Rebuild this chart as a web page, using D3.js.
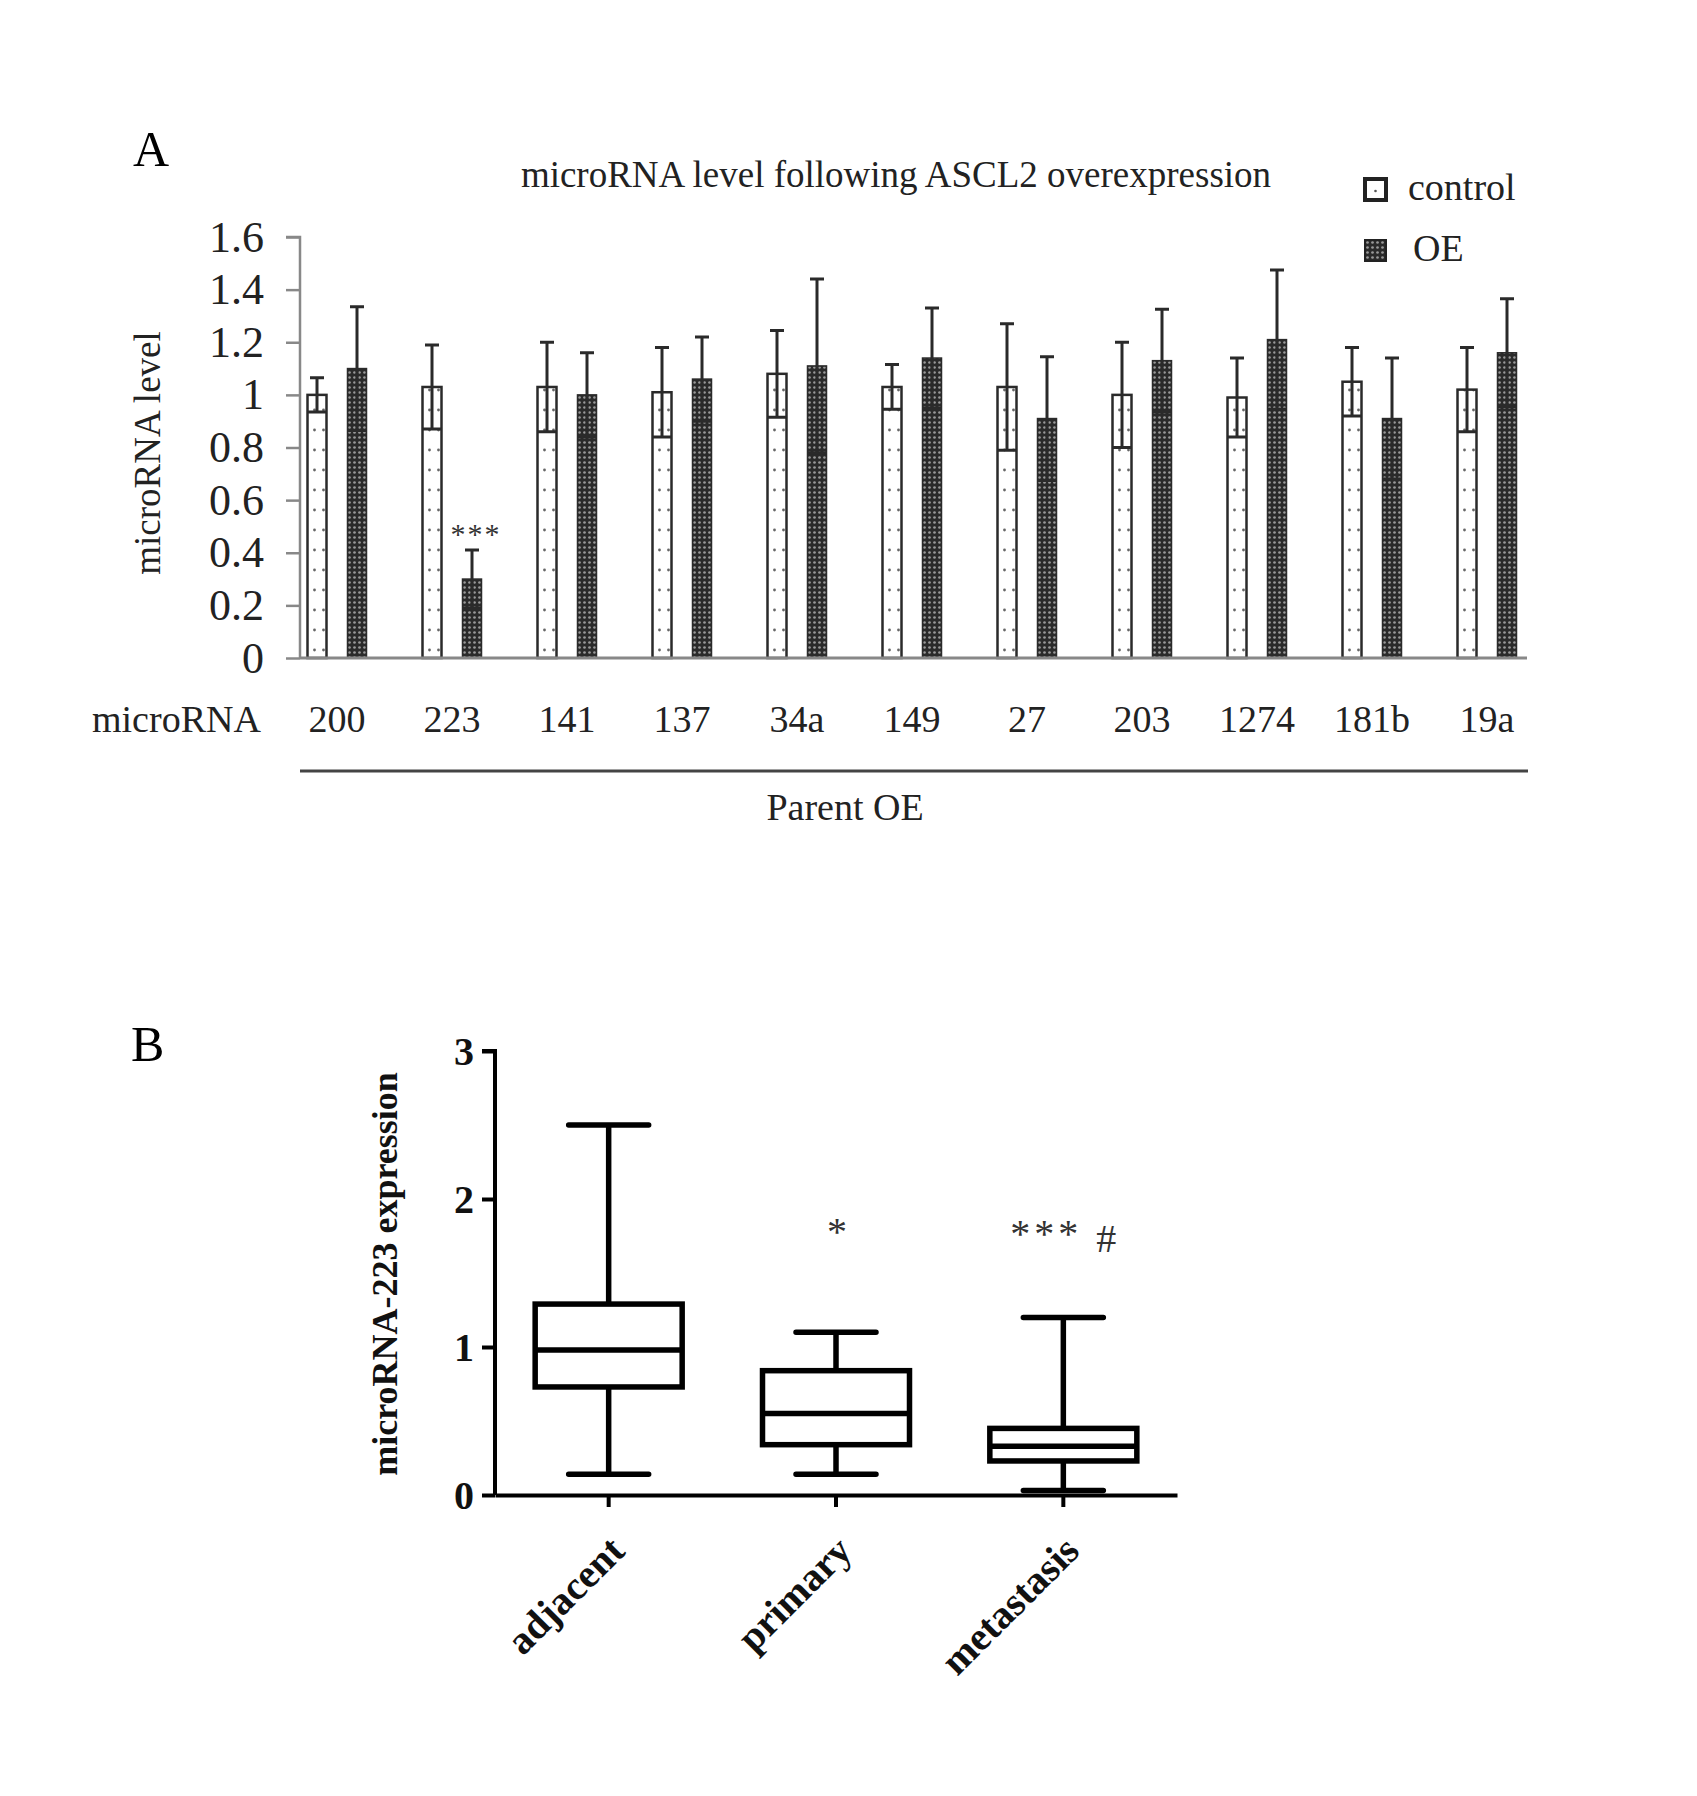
<!DOCTYPE html>
<html>
<head>
<meta charset="utf-8">
<script src="https://cdn.jsdelivr.net/npm/d3@7"></script>
<style>
  body { margin: 0; background: #fff; }
  svg { display: block; font-family: "Liberation Serif", "Times New Roman", serif; }
</style>
</head>
<body>
<svg id="chart" width="1697" height="1796"></svg>
<script>
// panel A data
const mirnas = ['200', '223', '141', '137', '34a', '149', '27', '203', '1274', '181b', '19a'];
const controlMean = [1.00, 1.03, 1.03, 1.01, 1.08, 1.03, 1.03, 1.00, 0.99, 1.05, 1.02];
const controlErr  = [0.065, 0.16, 0.17, 0.17, 0.165, 0.085, 0.24, 0.20, 0.15, 0.13, 0.16];
const oeMean = [1.10, 0.30, 1.00, 1.06, 1.11, 1.14, 0.91, 1.13, 1.21, 0.91, 1.16];
const oeErr  = [0.235, 0.11, 0.16, 0.16, 0.33, 0.19, 0.235, 0.195, 0.265, 0.23, 0.205];
const seriesNames = ['control', 'OE'];
const yTicksA = [0, 0.2, 0.4, 0.6, 0.8, 1, 1.2, 1.4, 1.6];

// panel B data
const tissues = ['adjacent', 'primary', 'metastasis'];
const whiskerLow  = [0.14, 0.14, 0.03];
const q1          = [0.73, 0.34, 0.23];
const medians     = [0.98, 0.55, 0.33];
const q3          = [1.29, 0.84, 0.45];
const whiskerHigh = [2.5, 1.10, 1.20];
const yTicksB = [0, 1, 2, 3];

const svg = d3.select('#chart');
const defs = svg.append('defs');

// fill patterns like the original print
let pc = defs.append('pattern').attr('id', 'dotsLight')
    .attr('patternUnits', 'userSpaceOnUse').attr('width', 9).attr('height', 20);
pc.append('rect').attr('width', 9).attr('height', 20).attr('fill', '#fff');
pc.append('circle').attr('cx', 4.5).attr('cy', 10).attr('r', 1.4).attr('fill', '#666');

let po = defs.append('pattern').attr('id', 'dotsDark')
    .attr('patternUnits', 'userSpaceOnUse').attr('width', 5).attr('height', 5);
po.append('rect').attr('width', 5).attr('height', 5).attr('fill', '#2a2a2a');
po.append('circle').attr('cx', 2.5).attr('cy', 2.5).attr('r', 1.35).attr('fill', '#999');

/* ---------- panel A ---------- */
const gA = svg.append('g');
const xA = d3.scalePoint().domain(mirnas).range([337, 1487]);
const yA = d3.scaleLinear().domain([0, 1.6]).range([658, 237]);
const barW = 19, offset = 20;

gA.append('text').attr('x', 133).attr('y', 166)
    .style('font-size', '50px').text('A');

gA.append('text').attr('x', 896).attr('y', 187).attr('text-anchor', 'middle')
    .style('font-size', '37px').attr('fill', '#222')
    .text('microRNA level following ASCL2 overexpression');

let yAxisA = gA.append('g').attr('transform', 'translate(300,0)')
    .call(d3.axisLeft(yA).tickValues(yTicksA).tickSize(14).tickPadding(22)
        .tickFormat(d => d === 0 ? '0' : String(+d.toFixed(1))));
yAxisA.selectAll('path, line').attr('stroke', '#888').attr('stroke-width', 2.5);
yAxisA.select('.domain').attr('d', `M-14,${yA(1.6)}H0V${yA(0)}`);
yAxisA.selectAll('text').style('font-size', '44px').attr('fill', '#222')
    .style('font-family', '"Liberation Serif", serif').attr('dy', '0.32em');

gA.append('text').attr('transform', 'translate(160,453) rotate(-90)')
    .attr('text-anchor', 'middle').style('font-size', '37px').attr('fill', '#222')
    .text('microRNA level');

let rows = mirnas.map((m, i) => ({
    name: m,
    vals: [
        {s: 'control', mean: controlMean[i], err: controlErr[i], dx: -offset},
        {s: 'OE', mean: oeMean[i], err: oeErr[i], dx: offset}
    ]
}));

let groups = gA.selectAll('g.grp').data(rows).join('g').attr('class', 'grp')
    .attr('transform', d => `translate(${xA(d.name)},0)`);

groups.selectAll('rect').data(d => d.vals).join('rect')
    .attr('x', d => d.dx - barW / 2)
    .attr('y', d => yA(d.mean))
    .attr('width', barW)
    .attr('height', d => yA(0) - yA(d.mean))
    .attr('fill', d => d.s === 'control' ? 'url(#dotsLight)' : 'url(#dotsDark)')
    .attr('stroke', '#2a2a2a')
    .attr('stroke-width', d => d.s === 'control' ? 2.5 : 1.5);

// error bars (lower half falls inside the bar)
groups.selectAll('path.err').data(d => d.vals).join('path').attr('class', 'err')
    .attr('d', d => {
        let top = yA(d.mean + d.err), bot = yA(d.mean - d.err);
        return `M${d.dx},${bot}V${top}M${d.dx - 7},${top}H${d.dx + 7}M${d.dx - barW / 2},${bot}H${d.dx + barW / 2}`;
    })
    .attr('fill', 'none').attr('stroke', '#2a2a2a').attr('stroke-width', 3);

// significance mark on miR-223 OE
gA.append('text')
    .attr('x', xA('223') + offset + 4).attr('y', yA(oeMean[1] + oeErr[1]) - 6)
    .attr('text-anchor', 'middle').style('font-size', '30px').attr('fill', '#333')
    .style('letter-spacing', '2px').text('***');

// baseline
gA.append('line').attr('x1', 300).attr('x2', 1527).attr('y1', yA(0)).attr('y2', yA(0))
    .attr('stroke', '#888').attr('stroke-width', 3);

// legend
let leg = gA.selectAll('g.leg').data(seriesNames).join('g').attr('class', 'leg')
    .attr('transform', (d, i) => `translate(1365,${179 + i * 61})`);
leg.append('rect').attr('width', 21).attr('height', 21)
    .attr('fill', d => d === 'control' ? '#fff' : 'url(#dotsDark)')
    .attr('stroke', '#222').attr('stroke-width', d => d === 'control' ? 4 : 2);
leg.append('circle').attr('cx', 10.5).attr('cy', 12).attr('r', 1.3)
    .attr('fill', d => d === 'control' ? '#555' : 'none');
leg.append('text').attr('x', d => d === 'control' ? 43 : 48).attr('y', 21)
    .style('font-size', '38px').attr('fill', '#222').text(d => d);

// category row
gA.append('text').attr('x', 92).attr('y', 732).style('font-size', '38px')
    .attr('fill', '#222').text('microRNA');
gA.selectAll('text.cat').data(mirnas).join('text').attr('class', 'cat')
    .attr('x', d => xA(d)).attr('y', 732).attr('text-anchor', 'middle')
    .style('font-size', '38px').attr('fill', '#222').text(d => d);

gA.append('line').attr('x1', 300).attr('x2', 1528).attr('y1', 771).attr('y2', 771)
    .attr('stroke', '#444').attr('stroke-width', 3);
gA.append('text').attr('x', 845).attr('y', 820).attr('text-anchor', 'middle')
    .style('font-size', '38px').attr('fill', '#222').text('Parent OE');

/* ---------- panel B ---------- */
const gB = svg.append('g');
const xB = d3.scaleBand().domain(tissues).range([495, 1177]);
const yB = d3.scaleLinear().domain([0, 3]).range([1495, 1051]);
const boxW = 147, capW = 80;

gB.append('text').attr('x', 131).attr('y', 1061)
    .style('font-size', '50px').text('B');

let yAxisB = gB.append('g').attr('transform', 'translate(495,0)')
    .call(d3.axisLeft(yB).tickValues(yTicksB).tickSize(13).tickPadding(8).tickFormat(d3.format('d')));
yAxisB.selectAll('path, line').attr('stroke', '#000').attr('stroke-width', 4);
yAxisB.select('.domain').attr('d', `M-13,${yB(3)}H0V${yB(0)}`);
yAxisB.selectAll('text').style('font-size', '40px').style('font-weight', 'bold')
    .style('font-family', '"Liberation Serif", serif').attr('fill', '#111').attr('dy', '0.34em');

let xAxisB = gB.append('g').attr('transform', `translate(0,${yB(0)})`)
    .call(d3.axisBottom(xB).tickSize(12).tickSizeOuter(0));
xAxisB.selectAll('path, line').attr('stroke', '#000').attr('stroke-width', 4);
xAxisB.selectAll('text').remove();

gB.selectAll('text.tis').data(tissues).join('text').attr('class', 'tis')
    .attr('transform', d => `translate(${xB(d) + xB.bandwidth() / 2 + 18},${yB(0) + 58}) rotate(-45)`)
    .attr('text-anchor', 'end').style('font-size', '40px').style('font-weight', 'bold')
    .attr('fill', '#111').text(d => d);

gB.append('text').attr('transform', 'translate(397,1274) rotate(-90)')
    .attr('text-anchor', 'middle').style('font-size', '36px').style('font-weight', 'bold')
    .attr('fill', '#111').text('microRNA-223 expression');

let boxes = tissues.map((t, i) => ({
    name: t, lo: whiskerLow[i], q1: q1[i], med: medians[i], q3: q3[i], hi: whiskerHigh[i]
}));

let bx = gB.selectAll('g.box').data(boxes).join('g').attr('class', 'box')
    .attr('transform', d => `translate(${xB(d.name) + xB.bandwidth() / 2},0)`);

bx.append('path')
    .attr('d', d => `M0,${yB(d.hi)}V${yB(d.q3)}M0,${yB(d.q1)}V${yB(d.lo)}` +
        `M${-capW / 2},${yB(d.hi)}H${capW / 2}M${-capW / 2},${yB(d.lo)}H${capW / 2}`)
    .attr('fill', 'none').attr('stroke', '#000').attr('stroke-width', 5.5)
    .attr('stroke-linecap', 'round');
bx.append('rect')
    .attr('x', -boxW / 2).attr('width', boxW)
    .attr('y', d => yB(d.q3)).attr('height', d => yB(d.q1) - yB(d.q3))
    .attr('fill', '#fff').attr('stroke', '#000').attr('stroke-width', 5.5);
bx.append('line').attr('x1', -boxW / 2).attr('x2', boxW / 2)
    .attr('y1', d => yB(d.med)).attr('y2', d => yB(d.med))
    .attr('stroke', '#000').attr('stroke-width', 5.5);

// significance marks
const marks = [
    {t: 'primary', txt: '*', dx: 3, y: 1245},
    {t: 'metastasis', txt: '***', dx: -17, y: 1247},
    {t: 'metastasis', txt: '#', dx: 45, y: 1252}
];
gB.selectAll('text.mark').data(marks).join('text').attr('class', 'mark')
    .attr('x', d => xB(d.t) + xB.bandwidth() / 2 + d.dx).attr('y', d => d.y)
    .attr('text-anchor', 'middle').style('font-size', '40px').style('letter-spacing', '4px')
    .attr('fill', '#333').text(d => d.txt);
</script>
</body>
</html>
